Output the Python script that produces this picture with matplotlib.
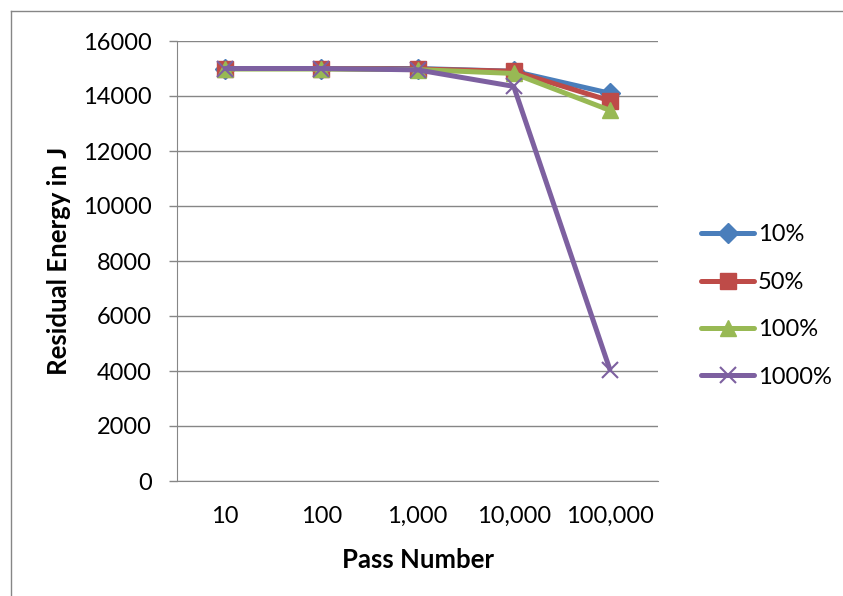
import matplotlib.pyplot as plt
from matplotlib.lines import Line2D

# Data
passes = ['10', '100', '1,000', '10,000', '100,000']
res_10 = [15000, 15000, 15000, 14900, 14100]
res_50 = [15000, 15000, 14980, 14900, 13830]
res_100 = [14980, 14980, 14960, 14820, 13480]
res_1000 = [15000, 15000, 14950, 14350, 4050]

series = [
    ('10%', res_10, '#4A7EBB', 'D', 10),
    ('50%', res_50, '#BE4B48', 's', 11),
    ('100%', res_100, '#98B954', '^', 12),
    ('1000%', res_1000, '#7D60A0', 'x', 12),
]

plt.rcParams['font.family'] = ['Lato', 'DejaVu Sans']

fig = plt.figure(figsize=(8.43, 5.96), dpi=100)
ax = fig.add_axes([177 / 843, 1 - 481 / 596, 481 / 843, 440 / 596])

x = range(len(passes))
for name, vals, col, mk, ms in series:
    ax.plot(x, vals, color=col, lw=3.6, marker=mk, markersize=ms,
            markeredgecolor=col, markerfacecolor=col,
            markeredgewidth=1.5 if mk == 'x' else 1, label=name,
            solid_capstyle='round')

ax.set_xlim(-0.5, len(passes) - 0.5)
ax.set_ylim(0, 16000)
ax.set_yticks(range(0, 16001, 2000))
ax.set_xticks(list(x))
ax.set_xticklabels(passes)
ax.tick_params(axis='x', length=0, pad=18, labelsize=17)
ax.tick_params(axis='y', length=6, color='#868686', width=1, pad=12, labelsize=17)
ax.grid(axis='y', color='#868686', lw=1)
ax.set_axisbelow(True)
for s in ['top', 'right']:
    ax.spines[s].set_visible(False)
for s in ['left', 'bottom']:
    ax.spines[s].set_color('#868686')

ax.set_xlabel('Pass Number', fontsize=18.5, fontweight='bold', labelpad=15)
ax.set_ylabel('Residual Energy in J', fontsize=18.5, fontweight='bold', labelpad=9)

leg = ax.legend(loc='center left', bbox_to_anchor=(680 / 843, 1 - 306 / 596),
                bbox_transform=fig.transFigure, frameon=False, fontsize=17,
                handlelength=2.25, handletextpad=0.15, labelspacing=1.12)

# outer chart border (only top and left edges fall inside the picture)
fig.add_artist(Line2D([11 / 843, 1], [1 - 11 / 596, 1 - 11 / 596],
                      transform=fig.transFigure, color='#868686', lw=1))
fig.add_artist(Line2D([11 / 843, 11 / 843], [0, 1 - 11 / 596],
                      transform=fig.transFigure, color='#868686', lw=1))

fig.savefig('out.png', dpi=100)
